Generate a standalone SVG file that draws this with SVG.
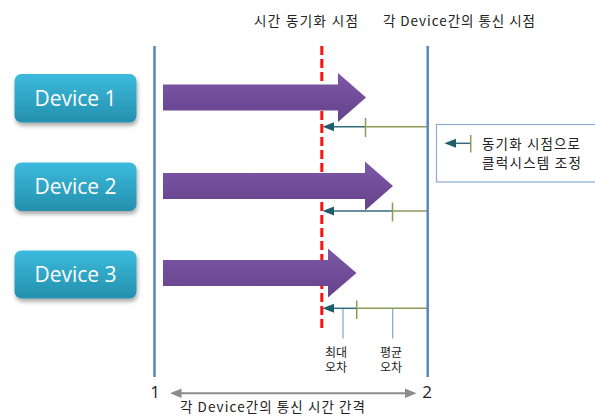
<svg xmlns="http://www.w3.org/2000/svg" width="595" height="418" viewBox="0 0 595 418">
<defs>
<linearGradient id="gDev" x1="0" y1="0" x2="0" y2="1">
<stop offset="0" stop-color="#3cbadd"/>
<stop offset="1" stop-color="#2590ad"/>
</linearGradient>
<linearGradient id="gArr" x1="0" y1="0" x2="0" y2="1">
<stop offset="0" stop-color="#7e58a6"/>
<stop offset="1" stop-color="#65428c"/>
</linearGradient>
<filter id="sh" x="-10%" y="-10%" width="125%" height="140%">
<feDropShadow dx="1" dy="3" stdDeviation="2" flood-color="#000" flood-opacity="0.35"/>
</filter>
</defs>
<style>
.dev{fill:url(#gDev);filter:url(#sh)}
.devt{font-family:"Open Sans","Noto Sans",sans-serif;font-size:21px;fill:#fff;text-anchor:middle}
.kr{font-family:"Noto Sans CJK KR","Noto Sans",sans-serif;font-size:13.5px;fill:#222}
.sm{font-size:12px}
.mid{text-anchor:middle}
.num{font-family:"Open Sans","Noto Sans",sans-serif;font-size:17px;fill:#222;text-anchor:middle}
.vline{stroke:#5585c5;stroke-width:2.5;fill:none}
.red{stroke:#ff1010;stroke-width:3;stroke-dasharray:9 4;fill:none}
.big{fill:url(#gArr)}
.teal{stroke:#2f6b7a;stroke-width:1.5;fill:none}
.grn{stroke:#8a9a58;stroke-width:1.5;fill:none}
.head{fill:#1e5c6a}
.err{stroke:#7fa3d6;stroke-width:1.2;fill:none}
.gray{stroke:#8c8c8c;stroke-width:2;fill:none}
.ghead{fill:#8c8c8c}
</style>

<g id="labels">
<text class="kr" x="254" y="25.5" textLength="104" lengthAdjust="spacing">시간 동기화 시점</text>
<text class="kr" x="383" y="25.5" textLength="152" lengthAdjust="spacing">각 Device간의 통신 시점</text>
</g>

<g id="timelines">
<line class="vline" x1="154.5" y1="46" x2="154.5" y2="377"/>
<line class="vline" x1="427.7" y1="46" x2="427.7" y2="377"/>
<line class="red" x1="321.8" y1="46" x2="321.8" y2="329"/>
</g>

<g id="device1">
<rect class="dev" x="14.5" y="74" width="122" height="48.5" rx="7"/>
<text class="devt" x="75.5" y="105.5">Device 1</text>
</g>
<g id="device2">
<rect class="dev" x="14.5" y="162.5" width="122" height="48.5" rx="7"/>
<text class="devt" x="75.5" y="194">Device 2</text>
</g>
<g id="device3">
<rect class="dev" x="14.5" y="250.5" width="122" height="48" rx="7"/>
<text class="devt" x="75.5" y="282">Device 3</text>
</g>

<g id="connectors">
<polygon class="big" points="163,84.5 338,84.5 338,73 366,97.5 338,122 338,110.5 163,110.5"/>
<polygon class="big" points="163,173 365,173 365,161.5 393,186 365,210.5 365,199 163,199"/>
<polygon class="big" points="163,260 328,260 328,248.5 356.5,273 328,297.5 328,286 163,286"/>

<line class="grn" x1="365.5" y1="126.7" x2="427" y2="126.7"/>
<line class="teal" x1="333" y1="126.7" x2="365.5" y2="126.7"/>
<line class="grn" x1="365.5" y1="118" x2="365.5" y2="137"/>
<polygon class="head" points="322.5,126.7 334,122.2 334,131.2"/>

<line class="grn" x1="392.5" y1="211" x2="427" y2="211"/>
<line class="teal" x1="333" y1="211" x2="392.5" y2="211"/>
<line class="grn" x1="392.5" y1="202.5" x2="392.5" y2="221.5"/>
<polygon class="head" points="322.5,211 334,206.5 334,215.5"/>

<line class="grn" x1="356.7" y1="308.3" x2="427" y2="308.3"/>
<line class="teal" x1="333" y1="308.3" x2="356.7" y2="308.3"/>
<line class="grn" x1="356.7" y1="300.5" x2="356.7" y2="319"/>
<polygon class="head" points="322.5,308.3 334,303.8 334,312.8"/>

<line class="err" x1="343" y1="309" x2="343" y2="338.5"/>
<line class="err" x1="392.7" y1="309" x2="392.7" y2="338.5"/>

<line class="gray" x1="180" y1="393.3" x2="406" y2="393.3"/>
<polygon class="ghead" points="170,393.3 181.5,388.5 181.5,398.1"/>
<polygon class="ghead" points="416.5,393.3 405,388.5 405,398.1"/>
</g>

<g id="legend">
<rect x="436.5" y="124.5" width="162" height="57.5" fill="#fff" stroke="#8eaad6" stroke-width="1.2"/>
<line class="teal" x1="455" y1="143.3" x2="470.7" y2="143.3"/>
<polygon class="head" points="444.5,143.3 456,138.8 456,147.8"/>
<line class="grn" x1="470.7" y1="135" x2="470.7" y2="152.5"/>
<text class="kr" x="482" y="148.5" textLength="98" lengthAdjust="spacing">동기화 시점으로</text>
<text class="kr" x="482" y="167.5" textLength="99" lengthAdjust="spacing">클럭시스템 조정</text>
</g>

<g id="error-labels">
<text class="kr sm mid" x="336" y="356.5">최대</text>
<text class="kr sm mid" x="336" y="372">오차</text>
<text class="kr sm mid" x="391" y="356.5">평균</text>
<text class="kr sm mid" x="391" y="372">오차</text>
</g>

<g id="axis-labels">
<text class="num" x="155" y="398">1</text>
<text class="num" x="427" y="398">2</text>
<text class="kr" x="180" y="412" textLength="185" lengthAdjust="spacing">각 Device간의 통신 시간 간격</text>
</g>
</svg>
